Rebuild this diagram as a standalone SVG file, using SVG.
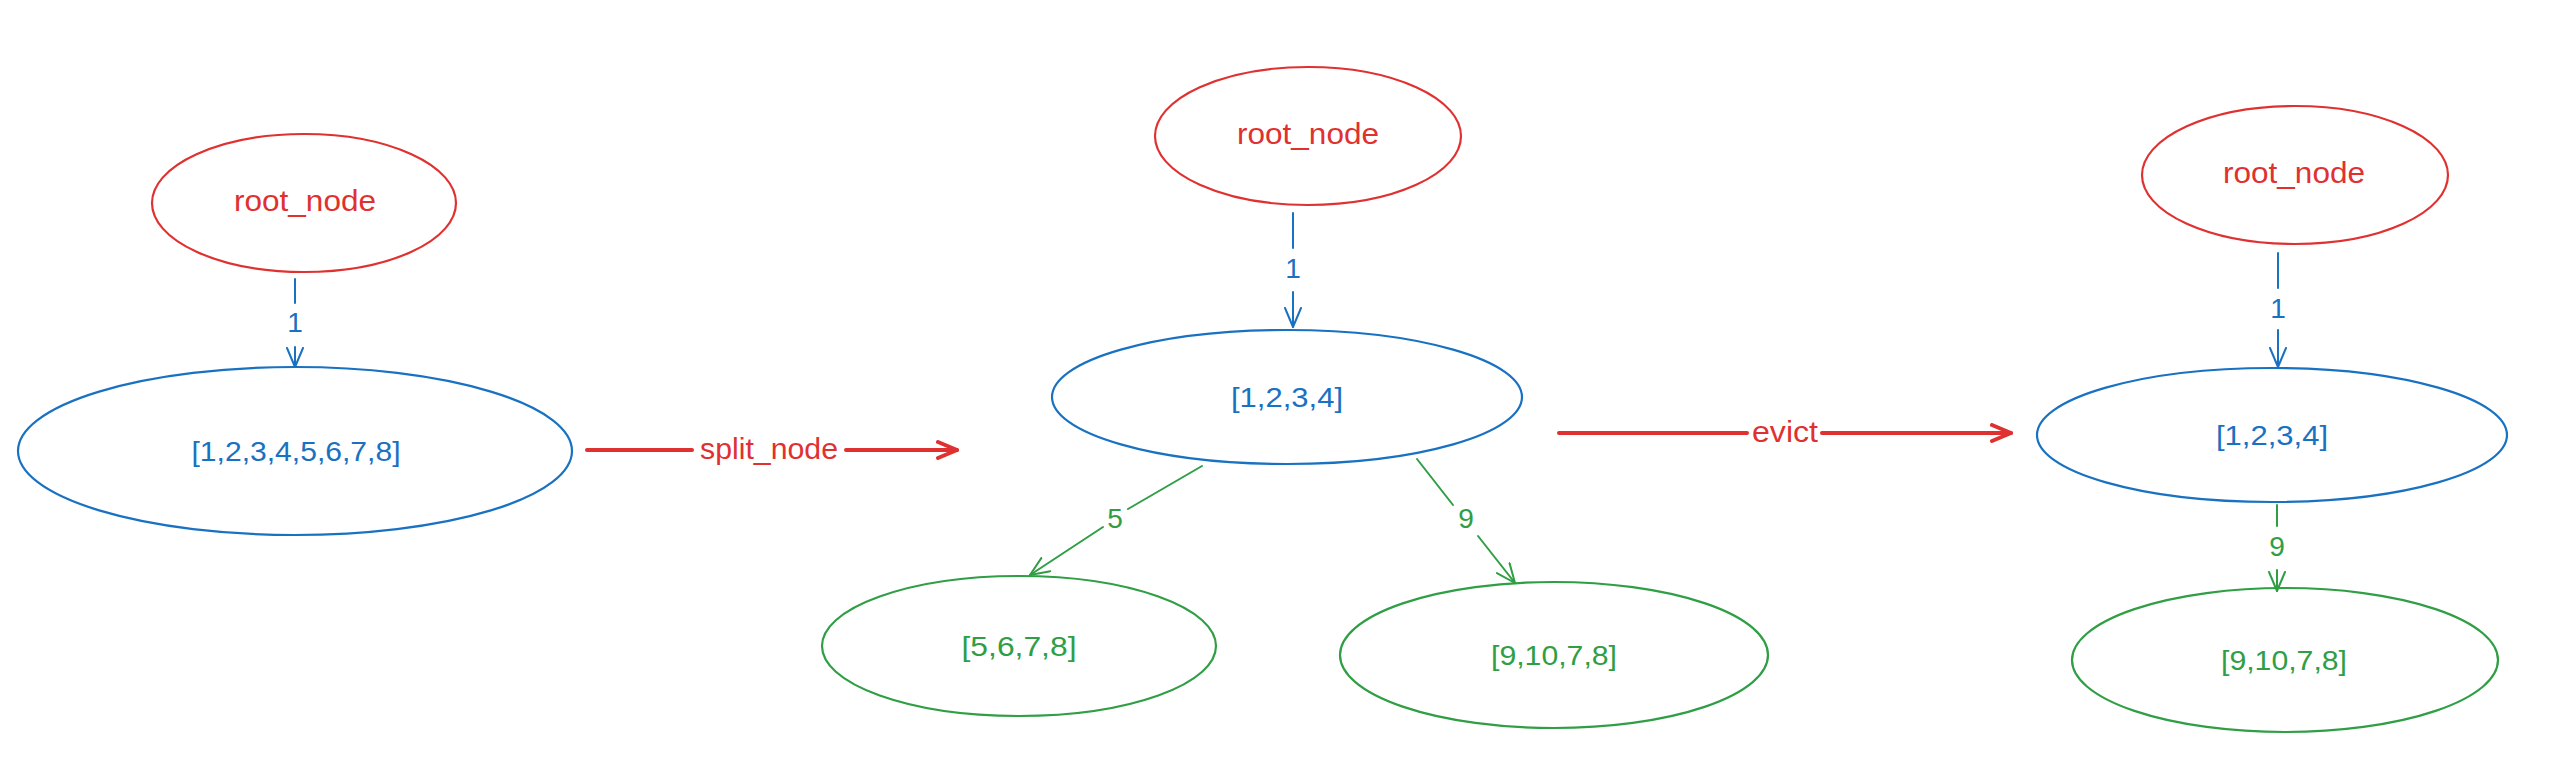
<svg xmlns="http://www.w3.org/2000/svg" width="2562" height="772" viewBox="0 0 2562 772">
<style>
  text { font-family: "Liberation Sans", "Noto Sans", sans-serif; text-anchor: middle; }
  .red { stroke: #e03131; fill: none; stroke-width: 2.2; }
  .blue { stroke: #1971c2; fill: none; stroke-width: 2.2; }
  .green { stroke: #2f9e44; fill: none; stroke-width: 2.2; }
  .eb { stroke: #1971c2; fill: none; stroke-width: 2; stroke-linecap: round; }
  .eg { stroke: #2f9e44; fill: none; stroke-width: 2; stroke-linecap: round; }
  .er { stroke: #e03131; fill: none; stroke-width: 4; stroke-linecap: round; }
  .tr { fill: #e03131; font-size: 30px; }
  .tb { fill: #1971c2; font-size: 28px; }
  .tg { fill: #2f9e44; font-size: 28px; }
</style>
<defs>
  <marker id="ab" markerUnits="userSpaceOnUse" viewBox="0 0 22 18" refX="20" refY="9" markerWidth="22" markerHeight="18" orient="auto">
    <path d="M1,1 L20,9 L1,17" fill="none" stroke="#1971c2" stroke-width="2" stroke-linecap="round" stroke-linejoin="round"/>
  </marker>
  <marker id="ag" markerUnits="userSpaceOnUse" viewBox="0 0 22 18" refX="20" refY="9" markerWidth="22" markerHeight="18" orient="auto">
    <path d="M1,1 L20,9 L1,17" fill="none" stroke="#2f9e44" stroke-width="2" stroke-linecap="round" stroke-linejoin="round"/>
  </marker>
  <marker id="ar" markerUnits="userSpaceOnUse" viewBox="0 0 24 20" refX="21" refY="10" markerWidth="24" markerHeight="20" orient="auto">
    <path d="M2,2 L21,10 L2,18" fill="none" stroke="#e03131" stroke-width="4" stroke-linecap="round" stroke-linejoin="round"/>
  </marker>
</defs>
<rect width="2562" height="772" fill="#ffffff"/>

<!-- Panel 1 -->
<g id="p1-root">
  <ellipse class="red" cx="304" cy="203" rx="152" ry="69"/>
  <text class="tr" x="305" y="211" textLength="142" lengthAdjust="spacingAndGlyphs">root_node</text>
</g>
<g id="p1-node">
  <ellipse class="blue" cx="295" cy="451" rx="277" ry="84"/>
  <text class="tb" x="296" y="461" textLength="209" lengthAdjust="spacingAndGlyphs">[1,2,3,4,5,6,7,8]</text>
</g>

<!-- Panel 2 -->
<g id="p2-root">
  <ellipse class="red" cx="1308" cy="136" rx="153" ry="69"/>
  <text class="tr" x="1308" y="144" textLength="142" lengthAdjust="spacingAndGlyphs">root_node</text>
</g>
<g id="p2-node">
  <ellipse class="blue" cx="1287" cy="397" rx="235" ry="67"/>
  <text class="tb" x="1287" y="407" textLength="112" lengthAdjust="spacingAndGlyphs">[1,2,3,4]</text>
</g>
<g id="p2-left">
  <ellipse class="green" cx="1019" cy="646" rx="197" ry="70"/>
  <text class="tg" x="1019" y="656" textLength="115" lengthAdjust="spacingAndGlyphs">[5,6,7,8]</text>
</g>
<g id="p2-right">
  <ellipse class="green" cx="1554" cy="655" rx="214" ry="73"/>
  <text class="tg" x="1554" y="665" textLength="126" lengthAdjust="spacingAndGlyphs">[9,10,7,8]</text>
</g>

<!-- Panel 3 -->
<g id="p3-root">
  <ellipse class="red" cx="2295" cy="175" rx="153" ry="69"/>
  <text class="tr" x="2294" y="183" textLength="142" lengthAdjust="spacingAndGlyphs">root_node</text>
</g>
<g id="p3-node">
  <ellipse class="blue" cx="2272" cy="435" rx="235" ry="67"/>
  <text class="tb" x="2272" y="445" textLength="112" lengthAdjust="spacingAndGlyphs">[1,2,3,4]</text>
</g>
<g id="p3-child">
  <ellipse class="green" cx="2285" cy="660" rx="213" ry="72"/>
  <text class="tg" x="2284" y="670" textLength="126" lengthAdjust="spacingAndGlyphs">[9,10,7,8]</text>
</g>

<!-- Connectors -->
<g id="connectors">
  <!-- panel 1 -->
  <path class="eb" d="M295,279 L295,303"/>
  <path class="eb" d="M295,347 L295,367" marker-end="url(#ab)"/>
  <text class="tb" x="295" y="332">1</text>

  <!-- split_node -->
  <path class="er" d="M587,450 L692,450"/>
  <path class="er" d="M846,450 L957,450" marker-end="url(#ar)"/>
  <text class="tr" x="769" y="459" textLength="138" lengthAdjust="spacingAndGlyphs">split_node</text>

  <!-- panel 2 -->
  <path class="eb" d="M1293,213 L1293,248"/>
  <path class="eb" d="M1293,292 L1293,327" marker-end="url(#ab)"/>
  <text class="tb" x="1293" y="278">1</text>

  <path class="eg" d="M1202,466 L1128,509"/>
  <path class="eg" d="M1103,527 L1030,575" marker-end="url(#ag)"/>
  <text class="tg" x="1115" y="528">5</text>

  <path class="eg" d="M1417,459 L1453,505"/>
  <path class="eg" d="M1478,536 L1515,583" marker-end="url(#ag)"/>
  <text class="tg" x="1466" y="528">9</text>

  <!-- evict -->
  <path class="er" d="M1559,433 L1747,433"/>
  <path class="er" d="M1822,433 L2011,433" marker-end="url(#ar)"/>
  <text class="tr" x="1785" y="442" textLength="66" lengthAdjust="spacingAndGlyphs">evict</text>

  <!-- panel 3 -->
  <path class="eb" d="M2278,253 L2278,288"/>
  <path class="eb" d="M2278,330 L2278,367" marker-end="url(#ab)"/>
  <text class="tb" x="2278" y="318">1</text>

  <path class="eg" d="M2277,505 L2277,526"/>
  <path class="eg" d="M2277,570 L2277,591" marker-end="url(#ag)"/>
  <text class="tg" x="2277" y="556">9</text>
</g>
</svg>
